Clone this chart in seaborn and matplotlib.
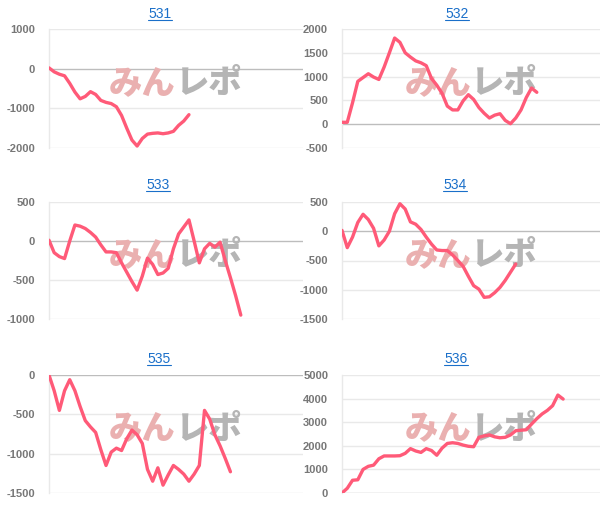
import seaborn as sns
import matplotlib.pyplot as plt
import pandas as pd
from matplotlib.lines import Line2D

# panel names
titles = ["531", "532", "533", "534", "535", "536"]

# running balance per panel
vals_531 = [20, -80, -140, -180, -370, -590, -760, -700, -580, -650,
            -800, -850, -880, -960, -1180, -1500, -1800, -1950, -1760, -1650,
            -1630, -1620, -1640, -1620, -1580, -1430, -1320, -1160]
vals_532 = [40, 40, 450, 900, 980, 1060, 990, 940, 1200, 1500,
            1810, 1720, 1500, 1410, 1330, 1290, 1230, 960, 820, 650,
            380, 300, 300, 490, 620, 520, 350, 230, 130, 190,
            220, 80, 10, 130, 300, 560, 760, 670]
vals_533 = [10, -150, -200, -225, 0, 205, 190, 160, 110, 50,
            -50, -140, -140, -150, -280, -400, -520, -630, -450, -220,
            -300, -430, -410, -350, -100, 90, 180, 270, 0, -280,
            -100, -30, -80, -15, -250, -470, -700, -950]
vals_534 = [15, -280, -100, 150, 290, 200, 50, -250, -150, 0,
            300, 470, 380, 160, 120, 30, -100, -220, -320, -330,
            -330, -405, -500, -600, -770, -930, -990, -1130, -1120, -1050,
            -960, -840, -700, -560]
vals_535 = [0, -200, -450, -200, -60, -200, -400, -580, -660, -730,
            -950, -1150, -980, -930, -960, -810, -700, -760, -870, -1200,
            -1350, -1180, -1400, -1270, -1150, -1200, -1260, -1350, -1260, -1150,
            -450, -560, -760, -900, -1060, -1230]
vals_536 = [0, 200, 540, 560, 1000, 1130, 1180, 1450, 1570, 1570,
            1570, 1580, 1680, 1880, 1780, 1720, 1880, 1800, 1600, 1900,
            2100, 2130, 2100, 2030, 1980, 1960, 2360, 2420, 2460, 2380,
            2340, 2360, 2460, 2640, 2660, 2680, 2920, 3150, 3350, 3500,
            3700, 4150, 3980]

# y ticks per panel
yticks_531 = [-2000, -1000, 0, 1000]
yticks_532 = [-500, 0, 500, 1000, 1500, 2000]
yticks_533 = [-1000, -500, 0, 500]
yticks_534 = [-1500, -1000, -500, 0, 500]
yticks_535 = [-1500, -1000, -500, 0]
yticks_536 = [0, 1000, 2000, 3000, 4000, 5000]

series = [vals_531, vals_532, vals_533, vals_534, vals_535, vals_536]
ticks = [yticks_531, yticks_532, yticks_533, yticks_534, yticks_535, yticks_536]
n_slots = 50

W, H = 611, 527
# plot areas in pixels: left, top, right, bottom
col_x = [(49, 303), (342, 600)]
row_y = [(29, 148), (202, 319), (375, 493)]
title_pos = [(160, 14), (457, 14), (158, 185), (455, 185), (159, 359), (456, 359)]

LINE = "#ff5a78"
GRID = "#e9e9e9"
ZERO = "#bdbdbd"
LINK = "#1a6fc9"


def main():
    sns.set_style("white")
    plt.rcParams['font.family'] = ['Liberation Sans', 'DejaVu Sans']

    fig = plt.figure(figsize=(W / 100, H / 100), dpi=100)
    title_texts = []

    for k in range(6):
        r, c = divmod(k, 2)
        x0, x1 = col_x[c]
        y0, y1 = row_y[r]
        ax = fig.add_axes([x0 / W, 1 - y1 / H, (x1 - x0) / W, (y1 - y0) / H])

        df = pd.DataFrame({"x": range(len(series[k])), "y": series[k]})
        yt = ticks[k]
        for t in yt:
            ax.axhline(t, color=ZERO if t == 0 else GRID, lw=1, zorder=0)

        # watermark
        ax.text(0.5, 0.55, "みん", transform=ax.transAxes, ha="right",
                va="center", fontsize=24, fontweight="black", color="#eab0b0",
                family=["Noto Sans CJK JP"], zorder=1)
        ax.text(0.5, 0.55, "レポ", transform=ax.transAxes, ha="left",
                va="center", fontsize=24, fontweight="black", color="#b5b5b5",
                family=["Noto Sans CJK JP"], zorder=1)

        sns.lineplot(data=df, x="x", y="y", ax=ax, color=LINE, lw=2.4,
                     solid_joinstyle="round", solid_capstyle="round", zorder=3)

        ax.set_xlim(0, n_slots - 1)
        ax.set_ylim(yt[0], yt[-1])
        ax.set_yticks(yt)
        ax.set_yticklabels([str(t) for t in yt])
        ax.set_xticks([])
        ax.set_xlabel("")
        ax.set_ylabel("")
        ax.tick_params(axis="y", length=3, width=1, color=GRID, pad=7,
                       labelsize=8, labelcolor="#777777")
        for lab in ax.get_yticklabels():
            lab.set_fontweight("bold")
        for s in ["top", "right", "bottom"]:
            ax.spines[s].set_visible(False)
        ax.spines["left"].set_color(GRID)
        ax.spines["left"].set_linewidth(1)

        tx, ty = title_pos[k]
        t = fig.text(tx / W, 1 - ty / H, titles[k], ha="center", va="center",
                     fontsize=10, color=LINK)
        title_texts.append(t)

    # underline the link-style titles
    renderer = fig.canvas.get_renderer()
    for t in title_texts:
        bb = t.get_window_extent(renderer)
        yline = (bb.y0 + 1) / H
        fig.add_artist(Line2D([bb.x0 / W, bb.x1 / W], [yline, yline],
                              color=LINK, lw=0.8))

    fig.savefig("out.png", dpi=100)


if __name__ == "__main__":
    main()
